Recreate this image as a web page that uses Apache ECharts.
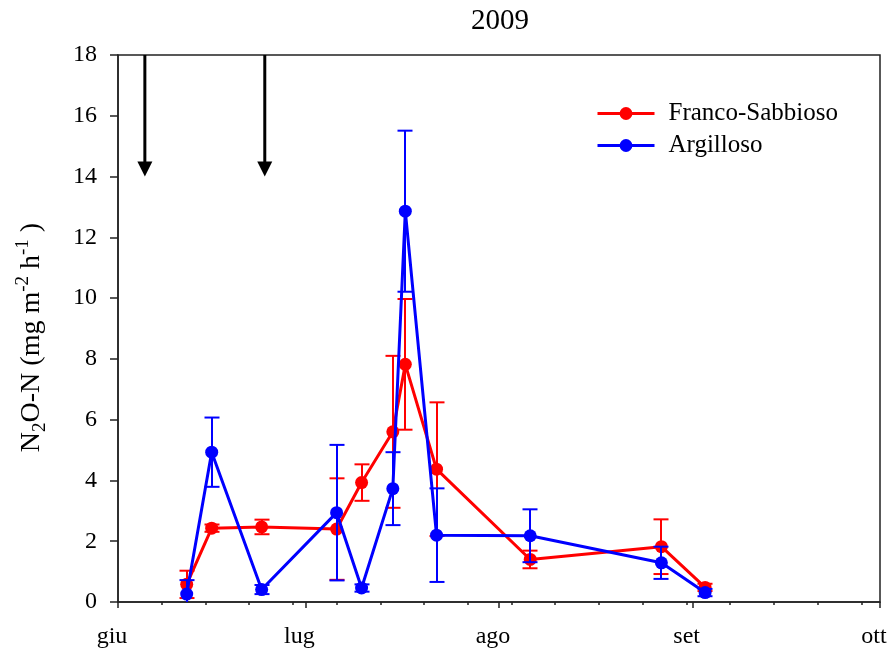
<!DOCTYPE html>
<html>
<head>
<meta charset="utf-8">
<script src="https://cdn.jsdelivr.net/npm/echarts@6/dist/echarts.min.js"></script>
<style>html,body{margin:0;padding:0;background:#fff;}#c{width:887px;height:656px;}</style>
</head>
<body>
<div id="c"></div>
<script>
// x values: days since 1 June 2009
var monthTicks = [0, 30, 61, 92, 122];
var monthLabels = ['giu', 'lug', 'ago', 'set', 'ott'];
var weekTicks = [7, 14, 21, 28, 35, 42, 49, 56, 63, 70, 77, 84, 91, 98, 105, 112, 119];
var sampleDays = [11, 15, 23, 35, 39, 44, 46, 51, 66, 87, 94];
var francoSabbioso = [0.58, 2.43, 2.47, 2.40, 3.93, 5.60, 7.82, 4.37, 1.40, 1.82, 0.48];
var francoSabbiosoErr = [0.45, 0.12, 0.24, 1.67, 0.60, 2.50, 2.15, 2.20, 0.29, 0.90, 0.12];
var argilloso = [0.26, 4.93, 0.41, 2.94, 0.46, 3.73, 12.86, 2.20, 2.18, 1.29, 0.31];
var argillosoErr = [0.46, 1.14, 0.15, 2.23, 0.12, 1.20, 2.65, 1.54, 0.87, 0.53, 0.12];
var arrowDays = [4.3, 23.5];
var arrowFrom = 18, arrowTo = 14.0;

var FONT = '"Liberation Serif", "Times New Roman", serif';

function pts(vals) { return sampleDays.map(function (d, i) { return [d, vals[i]]; }); }
function errData(vals, errs) { return sampleDays.map(function (d, i) { return [d, vals[i] - errs[i], vals[i] + errs[i]]; }); }

function errRender(color) {
  return function (params, api) {
    var x = api.value(0), lo = api.value(1), hi = api.value(2);
    var pLo = api.coord([x, lo]), pHi = api.coord([x, hi]);
    var cx = Math.round(pLo[0]);
    var w = 7.5;
    var st = { stroke: color, lineWidth: 2 };
    return {
      type: 'group',
      children: [
        { type: 'line', shape: { x1: cx, y1: pLo[1], x2: cx, y2: pHi[1] }, style: st },
        { type: 'line', shape: { x1: cx - w, y1: pLo[1], x2: cx + w, y2: pLo[1] }, style: st },
        { type: 'line', shape: { x1: cx - w, y1: pHi[1], x2: cx + w, y2: pHi[1] }, style: st }
      ]
    };
  };
}

var chart = echarts.init(document.getElementById('c'), null, { renderer: 'canvas' });
var option = {
  animation: false,
  backgroundColor: '#fff',
  textStyle: { fontFamily: FONT, color: '#000' },
  title: {
    text: '2009', left: 500, top: 7, textAlign: 'center', padding: 0,
    textStyle: { fontFamily: FONT, fontSize: 29, fontWeight: 'normal', color: '#000' }
  },
  legend: {
    orient: 'vertical', left: 596, top: 101, itemWidth: 57, itemHeight: 16, itemGap: 7, padding: 0,
    data: ['Franco-Sabbioso', 'Argilloso'],
    lineStyle: { width: 3 },
    textStyle: { fontFamily: FONT, fontSize: 25, color: '#000', lineHeight: 25, padding: [0, 0, 0, 9] }
  },
  grid: { left: 118, right: 7, top: 55, bottom: 54, show: true, borderColor: '#222', borderWidth: 1.5, containLabel: false, outerBoundsMode: 'none' },
  xAxis: [{
    type: 'value', min: 0, max: 122, position: 'bottom',
    axisLine: { show: true, lineStyle: { color: '#222', width: 1.5 } },
    axisTick: { show: true, inside: false, length: 6, customValues: monthTicks, lineStyle: { color: '#222', width: 1.5 } },
    axisLabel: {
      customValues: monthTicks, margin: 23, fontSize: 24, lineHeight: 24, color: '#000', fontFamily: FONT,
      padding: [0, 12, 0, 0],
      formatter: function (v) { var i = monthTicks.indexOf(v); return i >= 0 ? monthLabels[i] : ''; }
    },
    splitLine: { show: false }
  }, {
    type: 'value', min: 0, max: 122, position: 'bottom',
    axisLine: { show: false },
    axisTick: { show: true, inside: false, length: 3, customValues: weekTicks, lineStyle: { color: '#222', width: 1.5 } },
    axisLabel: { show: false },
    splitLine: { show: false }
  }],
  yAxis: {
    type: 'value', min: 0, max: 18, interval: 2,
    axisLine: { show: true, lineStyle: { color: '#222', width: 1.5 } },
    axisTick: { show: true, inside: false, length: 8, lineStyle: { color: '#222', width: 1.5 } },
    axisLabel: { fontSize: 24, margin: 21, color: '#000', fontFamily: FONT },
    splitLine: { show: false },
    name: '{m|N}{sub|2}{m|O-N (mg m}{sup|-2}{m| h}{sup|-1}{m| )}',
    nameLocation: 'middle', nameRotate: 90, nameGap: 68,
    nameTextStyle: {
      fontFamily: FONT, color: '#000', padding: [0, 18, 0, 0], lineHeight: 36,
      rich: {
        m: { fontFamily: FONT, fontSize: 28, lineHeight: 36, verticalAlign: 'middle', color: '#000' },
        sub: { fontFamily: FONT, fontSize: 19, lineHeight: 19, verticalAlign: 'bottom', color: '#000' },
        sup: { fontFamily: FONT, fontSize: 19, lineHeight: 19, verticalAlign: 'top', color: '#000' }
      }
    }
  },
  series: [{
    type: 'custom', name: 'errFS', z: 1, xAxisIndex: 0, clip: true,
    renderItem: errRender('#ff0000'), data: errData(francoSabbioso, francoSabbiosoErr)
  }, {
    type: 'line', name: 'Franco-Sabbioso', z: 2, xAxisIndex: 0,
    data: pts(francoSabbioso), symbol: 'circle', symbolSize: 13, showSymbol: true,
    color: '#ff0000', lineStyle: { color: '#ff0000', width: 3 }, itemStyle: { color: '#ff0000' }
  }, {
    type: 'custom', name: 'errA', z: 3, xAxisIndex: 0, clip: true,
    renderItem: errRender('#0000ff'), data: errData(argilloso, argillosoErr)
  }, {
    type: 'line', name: 'Argilloso', z: 4, xAxisIndex: 0,
    data: pts(argilloso), symbol: 'circle', symbolSize: 13, showSymbol: true,
    color: '#0000ff', lineStyle: { color: '#0000ff', width: 3 }, itemStyle: { color: '#0000ff' }
  }, {
    type: 'custom', name: 'arrows', z: 5, xAxisIndex: 0, clip: false,
    data: arrowDays.map(function (d) { return [d, arrowFrom, arrowTo]; }),
    renderItem: function (params, api) {
      var top = api.coord([api.value(0), api.value(1)]);
      var tip = api.coord([api.value(0), api.value(2)]);
      var h = 15, w = 7.5;
      return {
        type: 'group',
        children: [
          { type: 'line', shape: { x1: top[0], y1: top[1], x2: tip[0], y2: tip[1] - h + 1 }, style: { stroke: '#000', lineWidth: 3 } },
          { type: 'polygon', shape: { points: [[tip[0] - w, tip[1] - h], [tip[0] + w, tip[1] - h], [tip[0], tip[1]]] }, style: { fill: '#000' } }
        ]
      };
    }
  }]
};
chart.setOption(option);
</script>
</body>
</html>
